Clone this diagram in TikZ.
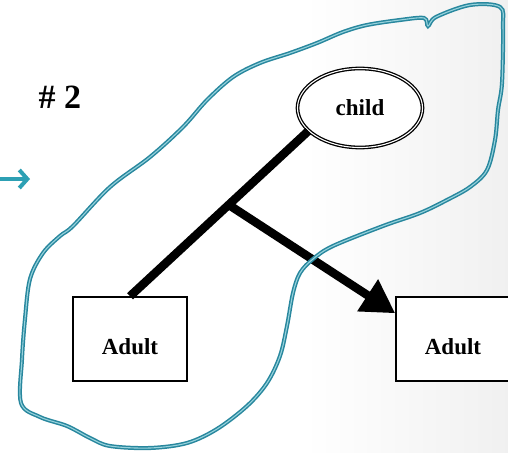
\documentclass[tikz,border=0pt]{standalone}
\usepackage{fontspec}
\setmainfont{Liberation Serif}
\usetikzlibrary{shapes.geometric,arrows.meta}
\definecolor{lasso}{RGB}{40,135,158}
\definecolor{lassolight}{RGB}{150,210,220}
\definecolor{cuecol}{RGB}{45,160,180}
\pgfdeclarehorizontalshading{backdrop}{100bp}{color(0bp)=(white); color(55bp)=(white); color(100bp)=(black!13)}
\begin{document}
\begin{tikzpicture}[x=1pt, y=-1pt,
		person/.style={draw, line width=1.5pt, fill=white, minimum width=114pt, minimum height=84pt, inner sep=0pt,
			text height=30pt, text depth=0pt, font=\fontsize{23}{27}\selectfont\bfseries},
		kid/.style={draw, shape=ellipse, line width=1.3pt, double, double distance=1.1pt, fill=white,
			minimum width=125pt, minimum height=79pt, inner sep=0pt, font=\fontsize{23}{27}\selectfont\bfseries},
		link/.style={line width=8.5pt},
		loop/.style={draw=lasso, line width=1.5pt, double=lassolight, double distance=1.1pt}]
	\useasboundingbox (0,0) rectangle (508,452);
	\clip (0,0) rectangle (508,452);
	\shade[shading=backdrop] (0,0) rectangle (508,452);

	\node[anchor=base west, font=\fontsize{34}{40}\selectfont\bfseries] (title) at (35,108) {\# 2};
	\node[kid] at (360,108) (child) {child};
	\node[person] at (130,339) (left) {Adult};
	\node[person] at (453,339) (right) {Adult};
	\coordinate (fork) at (229,205);

	\draw[link] (child.204) -- (left.north);
	\draw[link, -{Triangle[length=33pt, width=36pt]}] (fork) -- (right.156);

	% hand drawn loop
	\draw[loop] plot[smooth cycle, tension=0.55] coordinates {
		(22,359) (25,319) (30,279) (43,253) (60,236) (73,226) (110,187) (150,157) (183,127)
		(207,100) (233,77) (260,63) (290,53) (317,43) (343,32) (367,25) (400,20) (424,18)
		(428,26) (436,17) (470,5) (500,7) (503,27) (502,83) (498,110) (495,140) (487,170)
		(470,187) (447,200) (420,213) (383,226) (333,246) (313,259) (300,273) (293,293)
		(287,326) (280,356) (267,383) (247,406) (217,429) (187,443) (150,448) (110,446)
		(90,438) (67,426) (40,417) (21,403)};

	\coordinate (cue) at (-4,179);
	\coordinate (cuetip) at (30,179);
	\draw[cuecol, line width=4pt, -{Straight Barb[length=8pt, width=18pt]}] (cue) -- (cuetip);
\end{tikzpicture}
\end{document}
